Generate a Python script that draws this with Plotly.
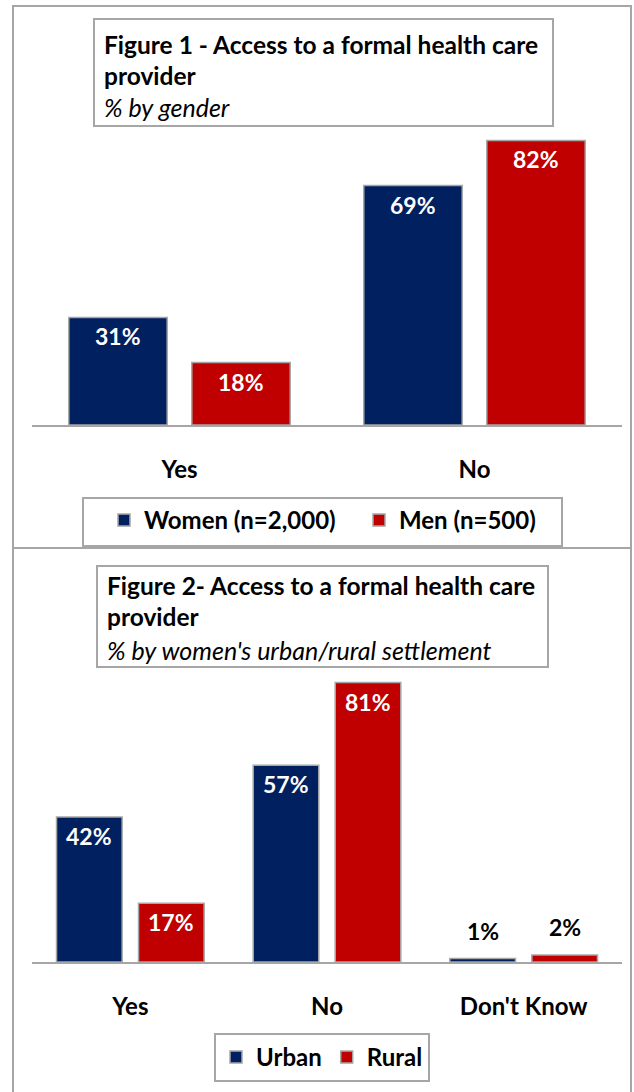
import plotly.graph_objects as go

# ---------------- data ----------------
cat1 = ["Yes", "No"]
women = [31, 69]
men = [18, 82]
series1_names = ["Women (n=2,000)", "Men (n=500)"]

cat2 = ["Yes", "No", "Don't Know"]
urban = [42, 57, 1]
rural = [17, 81, 2]
series2_names = ["Urban", "Rural"]

title1 = "Figure 1 - Access to a formal health care"
title1b = "provider"
sub1 = "% by gender"
title2 = "Figure 2- Access to a formal health care"
title2b = "provider"
sub2 = "% by women's urban/rural settlement"

# ---------------- style ----------------
W, H = 634, 1092
NAVY = "#002060"
RED = "#C00000"
GRAY = "#A6A6A6"
FONT = "Lato"

def fy(p):
    return 1 - p / H

def fx(p):
    return p / W

X0, X1 = 32, 622          # plot area horizontally (px)
BASE1, TOP1 = 425, 130    # chart 1 baseline / top (px)
BASE2, TOP2 = 962, 675    # chart 2 baseline / top (px)
PPU1, PPU2 = 3.47, 3.45   # px per percentage point
BARGAP, GROUPGAP = 0.166, 0.2

fig = go.Figure()

bar_line = dict(color=GRAY, width=1.5)

fig.add_trace(go.Bar(x=cat1, y=women, name=series1_names[0], marker=dict(color=NAVY, line=bar_line),
                     xaxis="x", yaxis="y", legend="legend"))
fig.add_trace(go.Bar(x=cat1, y=men, name=series1_names[1], marker=dict(color=RED, line=bar_line),
                     xaxis="x", yaxis="y", legend="legend"))
fig.add_trace(go.Bar(x=cat2, y=urban, name=series2_names[0], marker=dict(color=NAVY, line=bar_line),
                     xaxis="x2", yaxis="y2", legend="legend2"))
fig.add_trace(go.Bar(x=cat2, y=rural, name=series2_names[1], marker=dict(color=RED, line=bar_line),
                     xaxis="x2", yaxis="y2", legend="legend2"))

# value labels as annotations anchored to the bars
def add_labels(cats, series_list, xref, yref, ncat):
    cat_w = (X1 - X0) / ncat
    slot = cat_w * (1 - BARGAP) / len(series_list)
    for si, vals in enumerate(series_list):
        shift = (si - (len(series_list) - 1) / 2) * slot
        for c, v in zip(cats, vals):
            inside = v >= 5
            fig.add_annotation(
                x=c, y=v, xref=xref, yref=yref, xshift=shift,
                text=f"{v}%", showarrow=False,
                yanchor="top" if inside else "bottom",
                yshift=-3 if inside else 12,
                font=dict(family=FONT, size=23, color="white" if inside else "black", weight="bold"),
            )

add_labels(cat1, [women, men], "x", "y", len(cat1))
add_labels(cat2, [urban, rural], "x2", "y2", len(cat2))

axis_common = dict(
    type="category", showline=True, linecolor=GRAY, linewidth=2, ticks="",
    showgrid=False, zeroline=False, ticklabelstandoff=22,
    tickfont=dict(family=FONT, size=24, color="black", weight="bold"),
)

legend_font = dict(family=FONT, size=24, color="black", weight="bold")

fig.update_layout(
    width=W, height=H, margin=dict(l=0, r=0, t=0, b=0),
    paper_bgcolor="white", plot_bgcolor="white",
    barmode="group", bargap=BARGAP, bargroupgap=GROUPGAP,
    font=dict(family=FONT, color="black"),
    xaxis=dict(domain=[fx(X0), fx(X1)], anchor="y", **axis_common),
    yaxis=dict(domain=[fy(BASE1), fy(TOP1)], range=[0, (BASE1 - TOP1) / PPU1], visible=False),
    xaxis2=dict(domain=[fx(X0), fx(X1)], anchor="y2", **axis_common),
    yaxis2=dict(domain=[fy(BASE2), fy(TOP2)], range=[0, (BASE2 - TOP2) / PPU2], visible=False),
    legend=dict(orientation="h", x=fx(104), xanchor="left", y=fy(498), yanchor="top",
                borderwidth=0, bgcolor="rgba(0,0,0,0)", font=legend_font,
                entrywidth=210, entrywidthmode="pixels",
                itemwidth=30, itemclick=False, itemdoubleclick=False),
    legend2=dict(orientation="h", x=fx(322), xanchor="center", y=fy(1033), yanchor="top",
                 bordercolor=GRAY, borderwidth=2, bgcolor="white", font=legend_font,
                 itemwidth=30, itemclick=False, itemdoubleclick=False),
    showlegend=True,
)

# outer frames
fig.add_shape(type="rect", xref="paper", yref="paper", x0=fx(13), x1=fx(631), y0=fy(548), y1=fy(6),
              line=dict(color=GRAY, width=2), layer="below")
fig.add_shape(type="rect", xref="paper", yref="paper", x0=fx(13), x1=fx(631), y0=fy(1095), y1=fy(548),
              line=dict(color=GRAY, width=2), layer="below")
# title boxes
fig.add_shape(type="rect", xref="paper", yref="paper", x0=fx(94), x1=fx(553), y0=fy(126), y1=fy(19),
              line=dict(color=GRAY, width=2), fillcolor="white", layer="below")
fig.add_shape(type="rect", xref="paper", yref="paper", x0=fx(97), x1=fx(548), y0=fy(667), y1=fy(566),
              line=dict(color=GRAY, width=2), fillcolor="white", layer="below")
# legend 1 box
fig.add_shape(type="rect", xref="paper", yref="paper", x0=fx(83), x1=fx(562), y0=fy(546), y1=fy(498),
              line=dict(color=GRAY, width=2), fillcolor="white", layer="below")

def title_lines(x, ys, lines):
    for (yy, (txt, bold, ital)) in zip(ys, lines):
        fig.add_annotation(x=fx(x), y=fy(yy), xref="paper", yref="paper", xanchor="left", yanchor="middle",
                           showarrow=False, text=txt,
                           font=dict(family=FONT, size=24.5 if bold else 25, color="black",
                                     weight="bold" if bold else "normal",
                                     style="italic" if ital else "normal"))

title_lines(102, [45, 76, 107], [(title1, True, False), (title1b, True, False), (sub1, False, True)])
title_lines(105, [585, 616, 650], [(title2, True, False), (title2b, True, False), (sub2, False, True)])

fig.write_html("out.html")
